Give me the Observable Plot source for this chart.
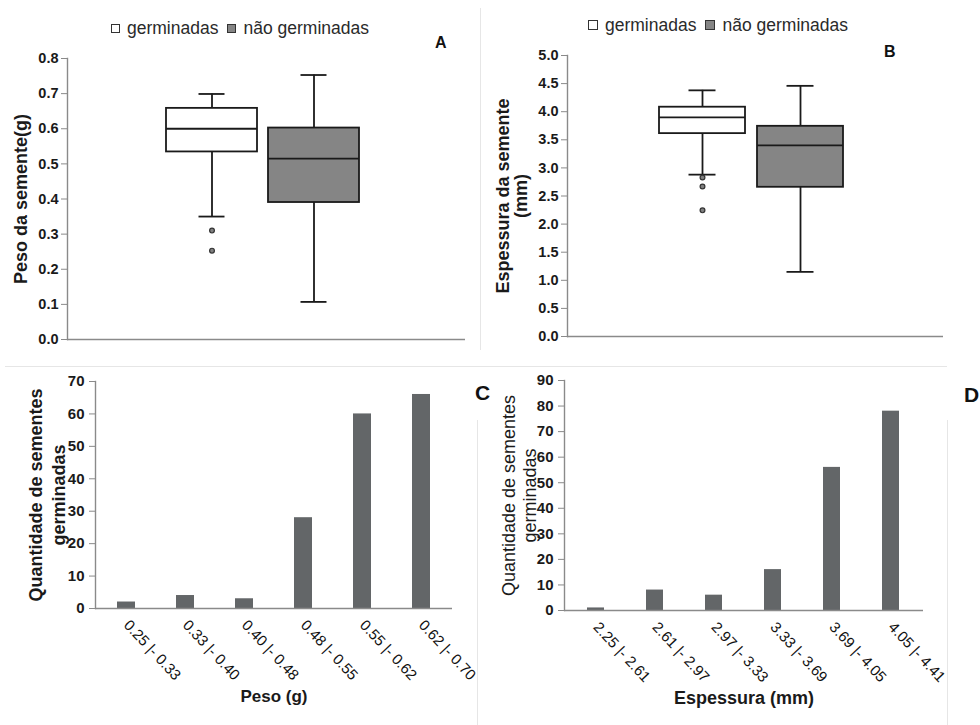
<!DOCTYPE html>
<html><head><meta charset="utf-8">
<script src="https://cdn.jsdelivr.net/npm/d3@7"></script>
<script src="https://cdn.jsdelivr.net/npm/@observablehq/plot@0.6"></script>
<style>
body{margin:0;background:#fff;}
#root{position:relative;width:980px;height:725px;overflow:hidden;font-family:"Liberation Sans",Arial,sans-serif;background:#fff;}
.panel{position:absolute;}
.legend{position:absolute;display:flex;align-items:center;font-size:17.5px;line-height:20px;color:#2a2a2a;white-space:nowrap;}
.sw{display:inline-block;box-sizing:border-box;border:1.5px solid #333;margin-right:7px;}
.letter{position:absolute;font-weight:bold;line-height:1;color:#111;}
.line{position:absolute;background:#e6e6e6;}
</style></head><body><div id="root"></div><script>
// ---------- data ----------
const groups = ["germinadas", "não germinadas"];
// Panel A: peso da semente (g)
const pesoMin = [0.350, 0.107];
const pesoQ1  = [0.534, 0.390];
const pesoMed = [0.600, 0.515];
const pesoQ3  = [0.658, 0.602];
const pesoMax = [0.699, 0.753];
const pesoOutGroup = ["germinadas", "germinadas"];
const pesoOutVal   = [0.310, 0.253];
const pesoTicks = [0, 0.1, 0.2, 0.3, 0.4, 0.5, 0.6, 0.7, 0.8];
// Panel B: espessura da semente (mm)
const espMin = [2.88, 1.15];
const espQ1  = [3.61, 2.655];
const espMed = [3.90, 3.40];
const espQ3  = [4.08, 3.74];
const espMax = [4.38, 4.46];
const espOutGroup = ["germinadas", "germinadas", "germinadas"];
const espOutVal   = [2.83, 2.67, 2.245];
const espTicks = [0, 0.5, 1.0, 1.5, 2.0, 2.5, 3.0, 3.5, 4.0, 4.5, 5.0];
// Panel C: peso classes
const pesoClasses = ["0.25 |- 0.33", "0.33 |- 0.40", "0.40 |- 0.48", "0.48 |- 0.55", "0.55 |- 0.62", "0.62 |- 0.70"];
const pesoCounts  = [2, 4, 3, 28, 60, 66];
const countTicksC = [0, 10, 20, 30, 40, 50, 60, 70];
// Panel D: espessura classes
const espClasses = ["2.25 |- 2.61", "2.61 |- 2.97", "2.97 |- 3.33", "3.33 |- 3.69", "3.69 |- 4.05", "4.05 |- 4.41"];
const espCounts  = [1, 8, 6, 16, 56, 78];
const countTicksD = [0, 10, 20, 30, 40, 50, 60, 70, 80, 90];

// ---------- helpers ----------
const FONT = "Liberation Sans, Arial, sans-serif";
const AXIS = "#8a8a8a";
const INK = "#1a1a1a";
const root = document.getElementById("root");

function place(node, left, top) {
  const d = document.createElement("div");
  d.className = "panel";
  d.style.left = left + "px";
  d.style.top = top + "px";
  d.appendChild(node);
  root.appendChild(d);
}

function boxPanel(o) {
  const rows = groups.map((g, i) => ({group: g, min: o.min[i], q1: o.q1[i], med: o.med[i], q3: o.q3[i], max: o.max[i]}));
  const outs = o.outVal.map((v, i) => ({group: o.outGroup[i], value: v}));
  const sw = 1.8;
  return Plot.plot({
    width: 490, height: 360,
    marginLeft: o.mL, marginRight: o.mR, marginTop: o.mT, marginBottom: o.mB,
    style: {fontFamily: FONT, background: "transparent", color: INK},
    x: {type: "band", domain: groups, paddingInner: o.pi, paddingOuter: o.po, align: o.align, axis: null},
    y: {domain: o.yDomain, axis: null},
    color: {domain: groups, range: ["#ffffff", "#858585"]},
    marks: [
      Plot.frame({anchor: "left", stroke: AXIS, strokeWidth: 1.4}),
      Plot.ruleY([0], {stroke: AXIS, strokeWidth: 1.4}),
      Plot.axisY({ticks: o.ticks, tickFormat: d => d.toFixed(1), tickSize: 6, tickPadding: 3,
        fontSize: 14.5, fontWeight: "bold", stroke: AXIS, color: INK, label: null}),
      Plot.ruleX(rows, {x: "group", y1: "q3", y2: "max", stroke: INK, strokeWidth: sw}),
      Plot.ruleX(rows, {x: "group", y1: "min", y2: "q1", stroke: INK, strokeWidth: sw}),
      Plot.barY(rows, {x: "group", y1: "q1", y2: "q3", fill: "group", stroke: INK, strokeWidth: sw}),
      Plot.tickY(rows, {x: "group", y: "med", stroke: INK, strokeWidth: sw}),
      Plot.tickY(rows, {x: "group", y: "max", stroke: INK, strokeWidth: sw, insetLeft: o.cap, insetRight: o.cap}),
      Plot.tickY(rows, {x: "group", y: "min", stroke: INK, strokeWidth: sw, insetLeft: o.cap, insetRight: o.cap}),
      Plot.dot(outs, {x: "group", y: "value", r: 2.4, fill: "#808080", stroke: "#333", strokeWidth: 1.2}),
      Plot.text([o.ylabel], {frameAnchor: "left", textAnchor: "middle", lineAnchor: "middle", rotate: -90,
        dx: o.ldx, fontSize: 18, fontWeight: "bold", lineHeight: o.lh, fill: INK})
    ]
  });
}

function barPanel(o) {
  const rows = o.classes.map((c, i) => ({cls: c, n: o.counts[i]}));
  return Plot.plot({
    width: 490, height: 365,
    marginLeft: o.mL, marginRight: o.mR, marginTop: o.mT, marginBottom: o.mB,
    style: {fontFamily: FONT, background: "transparent", color: INK},
    x: {type: "band", domain: o.classes, paddingInner: o.pi, paddingOuter: o.pi / 2},
    y: {domain: o.yDomain},
    marks: [
      Plot.barY(rows, {x: "cls", y: "n", fill: "#636668"}),
      Plot.frame({anchor: "left", stroke: AXIS, strokeWidth: 1.4}),
      Plot.ruleY([0], {stroke: AXIS, strokeWidth: 1.4}),
      Plot.axisY({ticks: o.ticks, tickSize: 6, tickPadding: 5, fontSize: 15, fontWeight: "bold",
        stroke: AXIS, color: INK, label: null}),
      Plot.axisX({tickRotate: 47, tickSize: 0, tickPadding: 14, fontSize: 15, fontWeight: "normal",
        color: "#111", label: null}),
      Plot.text([o.xlabel], {frameAnchor: "bottom", dy: o.xdy, fontSize: o.xfs, fontWeight: "bold", fill: INK}),
      Plot.text([o.ylabel], {frameAnchor: "left", textAnchor: "middle", lineAnchor: "middle", rotate: -90,
        dx: o.ldx, fontSize: 18, fontWeight: o.yWeight, lineHeight: o.lh, fill: INK})
    ]
  });
}

// ---------- panels ----------
place(boxPanel({min: pesoMin, q1: pesoQ1, med: pesoMed, q3: pesoQ3, max: pesoMax,
  outGroup: pesoOutGroup, outVal: pesoOutVal, yDomain: [0, 0.8], ticks: pesoTicks,
  mL: 67, mR: 25, mT: 58, mB: 21, pi: 0.103, po: 0.993, align: 0.486, cap: 32.5,
  ylabel: "Peso da semente(g)", ldx: -46, lh: 1}), 0, 0);

place(boxPanel({min: espMin, q1: espQ1, med: espMed, q3: espQ3, max: espMax,
  outGroup: espOutGroup, outVal: espOutVal, yDomain: [0, 5], ticks: espTicks,
  mL: 77, mR: 37, mT: 55, mB: 24, pi: 0.118, po: 0.97, align: 0.482, cap: 29.5,
  ylabel: "Espessura da semente\n(mm)", ldx: -55, lh: 1.0}), 490, 0);

place(barPanel({classes: pesoClasses, counts: pesoCounts, yDomain: [0, 70], ticks: countTicksC,
  mL: 95, mR: 38, mT: 21, mB: 117, pi: 0.69,
  xlabel: "Peso (g)", xdy: 93, xfs: 17,
  ylabel: "Quantidade de sementes\ngerminadas", ldx: -49, lh: 1.25, yWeight: "bold"}), 0, 360);

place(barPanel({classes: espClasses, counts: espCounts, yDomain: [0, 90], ticks: countTicksD,
  mL: 74, mR: 57, mT: 20, mB: 115, pi: 0.705,
  xlabel: "Espessura (mm)", xdy: 93, xfs: 18,
  ylabel: "Quantidade de sementes\ngerminadas", ldx: -46, lh: 1.2, yWeight: "normal"}), 490, 360);

// ---------- legends, letters, faint frame lines ----------
function legend(left, top, size) {
  const d = document.createElement("div");
  d.className = "legend";
  d.style.left = left + "px";
  d.style.top = top + "px";
  const fills = ["#ffffff", "#858585"];
  groups.forEach((g, i) => {
    const s = document.createElement("span");
    s.className = "sw";
    s.style.width = size + "px";
    s.style.height = size + "px";
    s.style.background = fills[i];
    const t = document.createElement("span");
    t.textContent = g;
    t.style.marginRight = i === 0 ? "9px" : "0";
    d.appendChild(s);
    d.appendChild(t);
  });
  root.appendChild(d);
}
legend(111, 18, 9);
legend(588, 15, 10);

function letter(txt, left, top, size) {
  const d = document.createElement("div");
  d.className = "letter";
  d.textContent = txt;
  d.style.left = left + "px";
  d.style.top = top + "px";
  d.style.fontSize = size + "px";
  root.appendChild(d);
}
letter("A", 435, 35, 16);
letter("B", 884, 44, 16);
letter("C", 475, 382, 21);
letter("D", 964, 384, 21);

function line(l, t, w, h) {
  const d = document.createElement("div");
  d.className = "line";
  Object.assign(d.style, {left: l + "px", top: t + "px", width: w + "px", height: h + "px"});
  root.appendChild(d);
}
line(480, 8, 1, 342);
line(5, 366, 485, 1);
line(477, 420, 1, 305);
line(490, 366, 457, 1);
line(947, 420, 1, 305);
</script></body></html>
